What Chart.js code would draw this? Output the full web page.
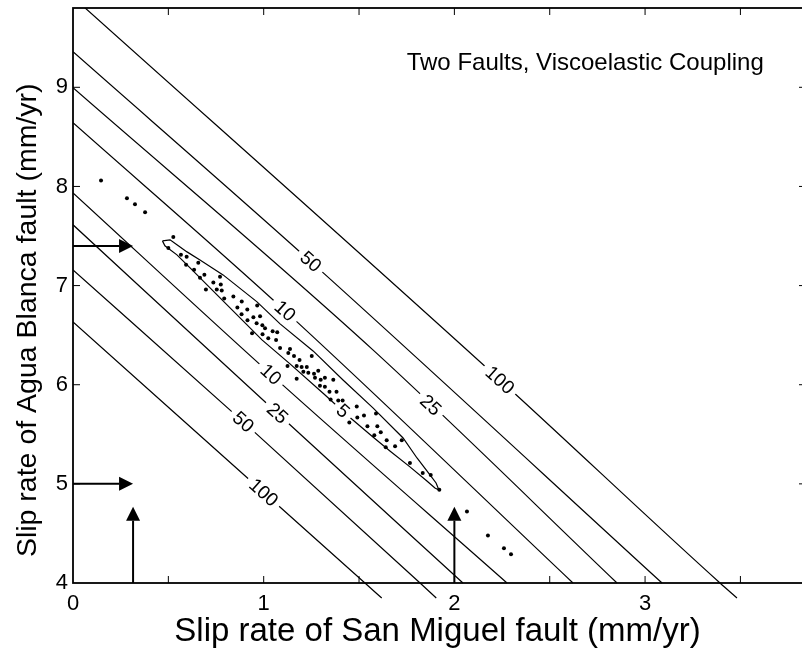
<!DOCTYPE html>
<html>
<head>
<meta charset="utf-8">
<script src="https://cdn.jsdelivr.net/npm/chart.js@4.4.0/dist/chart.umd.min.js"></script>
<style>
    html, body { margin: 0; padding: 0; background: #fff; overflow: hidden; }
    canvas { display: block; }
</style>
</head>
<body>
<canvas id="misfitChart" width="802" height="653"></canvas>
<script>
const FONT = '"Liberation Sans", Arial, Helvetica, sans-serif';

// axis limits, mm/yr (the right edge of the box sits just past the page)
const xLimits = [0, 3.823];
const yLimits = [4, 9.8];
const xTickMarks = [0.5, 1, 1.5, 2, 2.5, 3, 3.5];
const yTickMarks = [5, 6, 7, 8, 9];

// misfit contours as [San Miguel, Agua Blanca] pairs
const lower100 = [[0, 6.634], [1.531, 4], [1.619, 3.849]];
const lower50 = [[0, 7.158], [0.893, 5.625], [1.82, 4], [1.905, 3.849]];
const lower25 = [[0, 7.613], [1.072, 5.712], [2.045, 4]];
const lower10 = [[0, 7.935], [1.038, 6.104], [2.276, 4]];
const upper10 = [[0, 8.642], [1.112, 6.745], [2.622, 4]];
const upper25 = [[0, 8.995], [1.573, 6.351], [2.853, 4]];
const upper50 = [[0, 9.358], [1.247, 7.242], [3.089, 4]];
const upper100 = [[0, 9.91], [2.239, 6.048], [3.393, 4], [3.482, 3.849]];

// closed 5 contour round the best fits
const contour5 = [
    [0.469, 7.451], [0.509, 7.461], [0.545, 7.411], [0.598, 7.340], [0.666, 7.259],
    [0.787, 7.108], [0.965, 6.836], [1.086, 6.614], [1.259, 6.341], [1.416, 6.048],
    [1.573, 5.766], [1.731, 5.463], [1.804, 5.261], [1.872, 5.090], [1.904, 5.009],
    [1.919, 4.938], [1.898, 4.959], [1.856, 5.029], [1.767, 5.171], [1.662, 5.332],
    [1.573, 5.473], [1.437, 5.695], [1.316, 5.907], [1.138, 6.210], [0.991, 6.452],
    [0.876, 6.674], [0.703, 7.007], [0.614, 7.179], [0.545, 7.310], [0.482, 7.401],
    [0.469, 7.451]
];

const contourLines = [lower100, lower50, lower25, lower10, upper10, upper25, upper50, upper100];
const contourText = ["100", "50", "25", "10", "10", "25", "50", "100"];
const contourLabelX = [1.0, 0.893, 1.072, 1.038, 1.112, 1.876, 1.247, 2.239];
const label5 = [1.416, 5.736];

// sampled slip rate pairs
const samples = [
    [0.526, 7.49], [0.500, 7.38], [0.566, 7.31], [0.596, 7.29], [0.593, 7.21], [0.657, 7.23], [0.635, 7.16], [0.689, 7.11],
    [0.666, 7.08], [0.771, 7.09], [0.736, 7.03], [0.775, 7.01], [0.697, 6.96], [0.754, 6.96], [0.780, 6.95], [0.793, 6.87],
    [0.841, 6.89], [0.885, 6.84], [0.862, 6.78], [0.914, 6.76], [0.966, 6.80], [0.884, 6.71], [0.946, 6.68], [0.981, 6.69],
    [0.915, 6.65], [0.963, 6.62], [0.993, 6.60], [1.007, 6.57], [0.939, 6.52], [0.994, 6.51], [1.024, 6.47], [1.047, 6.54],
    [1.071, 6.53], [1.065, 6.45], [1.086, 6.37], [1.138, 6.36], [1.129, 6.32], [1.159, 6.29], [1.188, 6.25], [1.252, 6.29],
    [1.125, 6.19], [1.173, 6.19], [1.199, 6.18], [1.226, 6.18], [1.208, 6.13], [1.234, 6.12], [1.264, 6.11], [1.286, 6.14],
    [1.173, 6.06], [1.269, 6.07], [1.299, 6.05], [1.321, 6.07], [1.365, 6.05], [1.295, 5.99], [1.321, 5.98], [1.345, 5.93],
    [1.382, 5.93], [1.351, 5.85], [1.391, 5.84], [1.414, 5.84], [1.488, 5.78], [1.589, 5.71], [1.526, 5.69], [1.491, 5.67],
    [1.449, 5.62], [1.544, 5.58], [1.596, 5.58], [1.580, 5.49], [1.614, 5.52], [1.645, 5.44], [1.724, 5.44], [1.640, 5.37],
    [1.689, 5.38], [1.767, 5.21], [1.834, 5.11], [1.876, 5.09], [1.921, 4.94]
];
const outliers = [
    [0.147, 8.06], [0.283, 7.88], [0.325, 7.82], [0.378, 7.74],
    [2.066, 4.72], [2.176, 4.48], [2.260, 4.35], [2.297, 4.29]
];

// geologic rate arrows
const arrowRowsY = [7.4, 5.0];
const arrowRowsTipX = 0.315;
const arrowColsX = [0.315, 2.0];
const arrowColsTipY = 4.77;

const yTitle = "Slip rate of Agua Blanca fault (mm/yr)";
const yTitleCentre = 6.65;

const toXY = p => ({ x: p[0], y: p[1] });

function lineSet(points) {
    return {
        data: points.map(toXY),
        showLine: true,
        borderColor: "#000",
        borderWidth: 1.2,
        pointRadius: 0,
        pointHoverRadius: 0,
        fill: false,
        cubicInterpolationMode: "monotone",
        clip: { left: 0, top: 0, right: 0, bottom: 16 }
    };
}

function drawTag(ctx, text, px, py, ang) {
    ctx.save();
    ctx.translate(px, py);
    ctx.rotate(ang);
    const w = ctx.measureText(text).width;
    ctx.fillStyle = "#fff";
    ctx.fillRect(-w / 2 - 5, -6, w + 10, 12);
    ctx.fillStyle = "#000";
    ctx.textAlign = "center";
    ctx.textBaseline = "middle";
    ctx.fillText(text, 0, 1);
    ctx.restore();
}

function placeOnLine(line, lx) {
    let k = 0;
    while (k < line.length - 2 && line[k + 1][0] < lx) k++;
    const a = line[k], b = line[k + 1];
    const t = (lx - a[0]) / (b[0] - a[0]);
    return { a, b, y: a[1] + t * (b[1] - a[1]) };
}

const contourLabels = {
    id: "contourLabels",
    beforeDatasetDraw(chart, args) {
        if (args.index !== 1) return;
        const { ctx, scales: { x, y } } = chart;
        const angleOf = (a, b) => Math.atan2(
            y.getPixelForValue(b[1]) - y.getPixelForValue(a[1]),
            x.getPixelForValue(b[0]) - x.getPixelForValue(a[0]));
        ctx.save();
        ctx.font = "19px " + FONT;
        contourLines.forEach((line, i) => {
            const p = placeOnLine(line, contourLabelX[i]);
            drawTag(ctx, contourText[i], x.getPixelForValue(contourLabelX[i]), y.getPixelForValue(p.y), angleOf(p.a, p.b));
        });
        const q = placeOnLine(lower10, label5[0]);
        drawTag(ctx, "5", x.getPixelForValue(label5[0]), y.getPixelForValue(label5[1]), angleOf(q.a, q.b));
        ctx.restore();
    }
};

const arrowsAndNote = {
    id: "arrowsAndNote",
    afterDatasetsDraw(chart) {
        const { ctx, scales: { x, y } } = chart;
        const head = 14, half = 7;
        ctx.save();
        ctx.strokeStyle = "#000";
        ctx.fillStyle = "#000";
        ctx.lineWidth = 2;

        arrowRowsY.forEach(v => {
            const py = y.getPixelForValue(v);
            const x0 = x.getPixelForValue(0);
            const tip = x.getPixelForValue(arrowRowsTipX);
            ctx.beginPath();
            ctx.moveTo(x0, py);
            ctx.lineTo(tip - head, py);
            ctx.stroke();
            ctx.beginPath();
            ctx.moveTo(tip, py);
            ctx.lineTo(tip - head, py - half);
            ctx.lineTo(tip - head, py + half);
            ctx.closePath();
            ctx.fill();
        });

        arrowColsX.forEach(v => {
            const px = x.getPixelForValue(v);
            const y0 = y.getPixelForValue(yLimits[0]);
            const tip = y.getPixelForValue(arrowColsTipY);
            ctx.beginPath();
            ctx.moveTo(px, y0);
            ctx.lineTo(px, tip + head);
            ctx.stroke();
            ctx.beginPath();
            ctx.moveTo(px, tip);
            ctx.lineTo(px - half, tip + head);
            ctx.lineTo(px + half, tip + head);
            ctx.closePath();
            ctx.fill();
        });

        ctx.font = "24px " + FONT;
        ctx.textAlign = "left";
        ctx.textBaseline = "alphabetic";
        ctx.fillText("Two Faults, Viscoelastic Coupling", x.getPixelForValue(1.75), y.getPixelForValue(9.175));
        ctx.restore();
    }
};

const boxFrame = {
    id: "boxFrame",
    afterDraw(chart) {
        const { ctx, chartArea: a, scales: { x, y } } = chart;
        const len = 7;
        const right = a.right + 4; // right spine is cut off by the page edge
        ctx.save();
        ctx.strokeStyle = "#000";
        ctx.lineWidth = 1;
        ctx.beginPath();
        xTickMarks.forEach(v => {
            const px = x.getPixelForValue(v);
            ctx.moveTo(px, a.bottom); ctx.lineTo(px, a.bottom - len);
            ctx.moveTo(px, a.top); ctx.lineTo(px, a.top + len);
        });
        yTickMarks.forEach(v => {
            const py = y.getPixelForValue(v);
            ctx.moveTo(a.left, py); ctx.lineTo(a.left + len, py);
            ctx.moveTo(right, py); ctx.lineTo(right - len, py);
        });
        ctx.stroke();
        ctx.lineWidth = 1.8;
        ctx.strokeRect(a.left, a.top, right - a.left, a.bottom - a.top);

        // y axis title, rotated
        ctx.fillStyle = "#000";
        ctx.font = "28.5px " + FONT;
        ctx.translate(36, y.getPixelForValue(yTitleCentre));
        ctx.rotate(-Math.PI / 2);
        ctx.textAlign = "center";
        ctx.textBaseline = "alphabetic";
        ctx.fillText(yTitle, 0, 0);
        ctx.restore();
    }
};

const datasets = [
    {
        data: samples.map(toXY),
        pointRadius: 2,
        pointHoverRadius: 2,
        pointBackgroundColor: "#000",
        pointBorderWidth: 0
    },
    {
        data: outliers.map(toXY),
        pointRadius: 2,
        pointHoverRadius: 2,
        pointBackgroundColor: "#000",
        pointBorderWidth: 0
    },
    Object.assign(lineSet(contour5), { cubicInterpolationMode: "default", tension: 0 })
].concat(contourLines.map(lineSet));

new Chart(document.getElementById("misfitChart"), {
    type: "scatter",
    data: { datasets },
    options: {
        responsive: false,
        devicePixelRatio: 1,
        animation: false,
        events: [],
        layout: { autoPadding: false, padding: { top: 8, right: 0, left: 0, bottom: 0 } },
        plugins: {
            legend: { display: false },
            tooltip: { enabled: false }
        },
        scales: {
            x: {
                type: "linear",
                min: xLimits[0],
                max: xLimits[1],
                grid: { display: false, drawTicks: false },
                border: { display: false },
                ticks: {
                    stepSize: 0.5,
                    autoSkip: false,
                    maxRotation: 0,
                    padding: 8,
                    color: "#000",
                    font: { family: FONT, size: 22 },
                    callback: v => Number.isInteger(v) ? String(v) : ""
                },
                title: {
                    display: true,
                    text: "Slip rate of San Miguel fault (mm/yr)",
                    color: "#000",
                    font: { family: FONT, size: 33 },
                    padding: { top: 0, bottom: 1 }
                },
                afterFit: s => {
                    s.height = 70;
                    s.paddingLeft = 0;
                    s.paddingRight = 0;
                }
            },
            y: {
                type: "linear",
                min: yLimits[0],
                max: yLimits[1],
                grid: { display: false, drawTicks: false },
                border: { display: false },
                ticks: {
                    stepSize: 1,
                    autoSkip: false,
                    padding: 5,
                    color: "#000",
                    font: { family: FONT, size: 22 },
                    callback: v => Number.isInteger(v) ? String(v) : ""
                },
                afterFit: s => {
                    s.width = 73;
                    s.paddingTop = 0;
                    s.paddingBottom = 0;
                }
            }
        }
    },
    plugins: [contourLabels, arrowsAndNote, boxFrame]
});
</script>
</body>
</html>
